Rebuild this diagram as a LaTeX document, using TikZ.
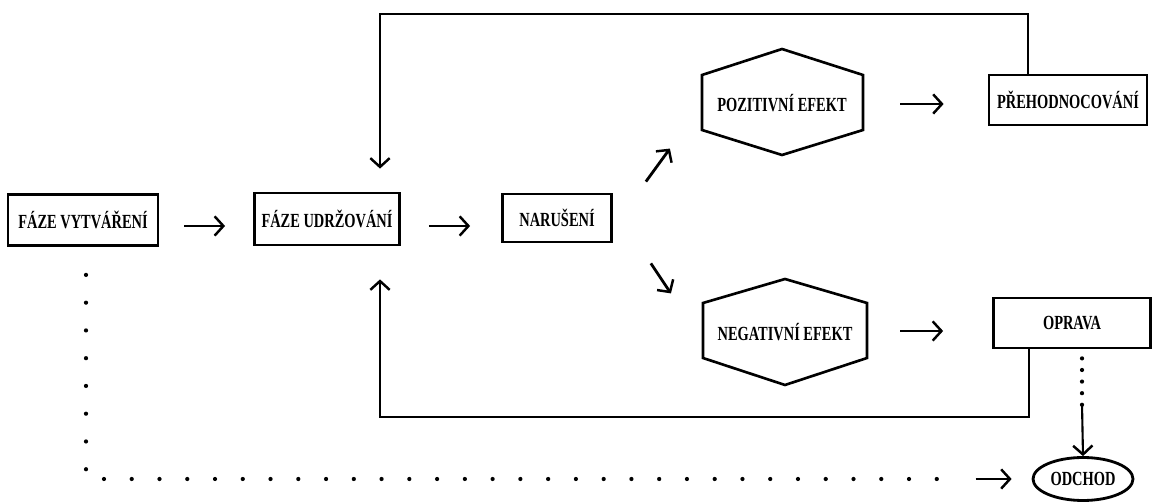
\documentclass[tikz,border=0pt]{standalone}
\usepackage{fontspec}
\setmainfont{Liberation Serif}[FakeStretch=0.72]
\usetikzlibrary{positioning,calc,shapes.geometric,arrows.meta}

\begin{document}
\begin{tikzpicture}[
  x=0.02cm, y=-0.02cm,
  box/.style={
    draw,
    line width=1.6pt,
    align=center,
    font=\bfseries\fontsize{11.4}{13}\selectfont,
    minimum height=1cm,
    inner xsep=4pt,
    fill=white
  },
  hexlabel/.style={font=\bfseries\fontsize{11.4}{13}\selectfont},
  hex/.style={draw, line width=1.5pt},
  line/.style={draw, line width=1.6pt, -{Straight Barb[length=5pt,width=11pt,line width=1.4pt]}},
  dots/.style={draw, line width=2.4pt, line cap=round, dash pattern=on 0pt off 15.8pt},
  finedots/.style={dots, dash pattern=on 0pt off 6.6pt}
]
\useasboundingbox (0,0) rectangle (1152,502);

\node[box, minimum width=3cm, minimum height=1.02cm] (vytvareni) at (83,220) {FÁZE VYTVÁŘENÍ};
\node[box, minimum width=2.9cm, minimum height=1.04cm] (udrzovani) at (327,219) {FÁZE UDRŽOVÁNÍ};
\node[box, minimum width=2.18cm, minimum height=0.96cm] (naruseni) at (557,218) {NARUŠENÍ};

\node[hexlabel] (pozitivni) at (782,103) {POZITIVNÍ EFEKT};
\draw[hex] ($(pozitivni)+(-80,-28)$) -- ($(pozitivni)+(0,-54)$) -- ($(pozitivni)+(81,-28)$)
  -- ($(pozitivni)+(81,27)$) -- ($(pozitivni)+(0,52)$) -- ($(pozitivni)+(-80,27)$) -- cycle;
\node[hexlabel] (negativni) at (785,332) {NEGATIVNÍ EFEKT};
\draw[hex] ($(negativni)+(-82,-29)$) -- ($(negativni)+(0,-53)$) -- ($(negativni)+(82,-29)$)
  -- ($(negativni)+(82,26)$) -- ($(negativni)+(0,53)$) -- ($(negativni)+(-82,26)$) -- cycle;

\node[box, minimum width=3.16cm] (prehodnoceni) at (1068,100) {PŘEHODNOCOVÁNÍ};
\node[box, minimum width=3.14cm] (oprava) at (1072,323) {OPRAVA};
\node[box, ellipse, minimum width=2cm, minimum height=0.86cm, inner sep=1pt] (odchod) at (1083,479) {ODCHOD};

% main flow
\draw[line] ($(vytvareni.east)+(25,6)$) -- ($(udrzovani.west)+(-28,7)$);
\draw[line] ($(udrzovani.east)+(28,7)$) -- ($(naruseni.west)+(-31,8)$);
\draw[line] ($(naruseni.north east)+(33,-11)$) -- ++(24,-33);
\draw[line] ($(naruseni.south east)+(38,20)$) -- ++(20,30);
\draw[line] ($(pozitivni)+(118,1)$) -- ($(prehodnoceni.west)+(-44,4)$);
\draw[line] ($(negativni)+(115,-1)$) -- ($(oprava.west)+(-49,8)$);

% feedback loops
\draw[line] ($(prehodnoceni.north)+(-40,0)$) |- (380,14) -- ($(udrzovani.north)+(53,-23)$);
\draw[line] ($(oprava.south)+(-43,0)$) |- (380,417) -- ($(udrzovani.south)+(53,33)$);

% leaving
\draw[finedots] ($(oprava.south)+(10,9)$) -- ($(oprava.south)+(10,58)$);
\draw[line, line width=1.2pt] ($(odchod.north)+(-1,-52)$) -- (odchod.north);
\draw[dots] ($(vytvareni.south)+(3,28)$) |- ($(odchod.west)+(-72,0)$);
\draw[line] ($(odchod.west)+(-56,0)$) -- ($(odchod.west)+(-20,0)$);
\end{tikzpicture}
\end{document}
